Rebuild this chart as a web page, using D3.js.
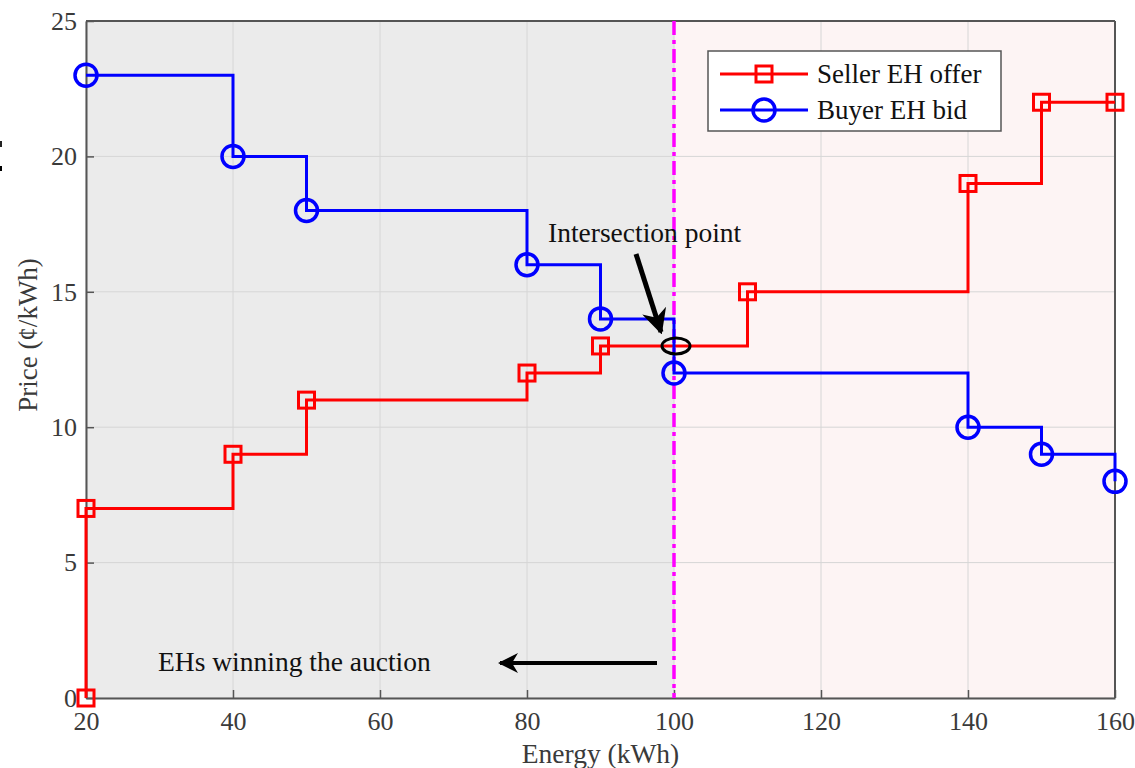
<!DOCTYPE html>
<html><head><meta charset="utf-8">
<script src="https://cdn.jsdelivr.net/npm/d3@7"></script>
<style>body{margin:0;background:#fff}svg{display:block}text{font-family:"Liberation Serif","DejaVu Serif",serif}</style>
</head><body><svg id="c" width="1135" height="768"></svg>
<script>
const sellerEnergy = [20, 20, 40, 50, 80, 90, 110, 140, 150, 160];
const sellerPrice  = [0, 7, 9, 11, 12, 13, 15, 19, 22, 22];
const buyerEnergy  = [20, 40, 50, 80, 90, 100, 140, 150, 160];
const buyerPrice   = [23, 20, 18, 16, 14, 12, 10, 9, 8];
const xTicks = [20, 40, 60, 80, 100, 120, 140, 160];
const yTicks = [0, 5, 10, 15, 20, 25];
const clearingEnergy = 100;
const intersection = {e: 100, p: 13};
const seriesNames = ["Seller EH offer", "Buyer EH bid"];

const svg = d3.select("#c");
const L = 86, R = 1115, T = 21, B = 698;
const x = d3.scaleLinear().domain([20, 160]).range([L, R]);
const y = d3.scaleLinear().domain([0, 25]).range([B, T]);

svg.append("rect").attr("x", x(20)).attr("y", T).attr("width", x(clearingEnergy) - x(20)).attr("height", B - T).attr("fill", "#ebebeb");
svg.append("rect").attr("x", x(clearingEnergy)).attr("y", T).attr("width", x(160) - x(clearingEnergy)).attr("height", B - T).attr("fill", "#fdf4f4");

const g = svg.append("g");
xTicks.forEach(t => g.append("line").attr("x1", x(t)).attr("x2", x(t)).attr("y1", T).attr("y2", B).attr("stroke", "#d6d6d6").attr("stroke-width", 1));
yTicks.forEach(t => g.append("line").attr("x1", L).attr("x2", R).attr("y1", y(t)).attr("y2", y(t)).attr("stroke", "#d6d6d6").attr("stroke-width", 1));

const xAxis = svg.append("g").attr("transform", `translate(0,${B})`).call(d3.axisBottom(x).tickValues(xTicks).tickSizeInner(-8).tickSizeOuter(0).tickPadding(14));
const yAxis = svg.append("g").attr("transform", `translate(${L},0)`).call(d3.axisLeft(y).tickValues(yTicks).tickSizeInner(-8).tickSizeOuter(0).tickPadding(9));
[xAxis, yAxis].forEach(a => {
  a.select(".domain").attr("stroke", "#555").attr("stroke-width", 2);
  a.selectAll(".tick line").attr("stroke", "#555").attr("stroke-width", 1.5);
  a.selectAll(".tick text").attr("font-size", 26).attr("fill", "#3a3a3a").attr("font-family", "Liberation Serif");
});
svg.append("line").attr("x1", L).attr("x2", R).attr("y1", T).attr("y2", T).attr("stroke", "#555").attr("stroke-width", 2);
svg.append("line").attr("x1", R).attr("x2", R).attr("y1", T).attr("y2", B).attr("stroke", "#555").attr("stroke-width", 2);

svg.append("line").attr("x1", x(clearingEnergy)).attr("x2", x(clearingEnergy)).attr("y1", T).attr("y2", B)
  .attr("stroke", "#ff00ff").attr("stroke-width", 3.5).attr("stroke-dasharray", "14,5,4,5");

const line = d3.line().x(d => x(d[0])).y(d => y(d[1])).curve(d3.curveStepAfter);
const sData = sellerEnergy.map((e, i) => [e, sellerPrice[i]]);
const bData = buyerEnergy.map((e, i) => [e, buyerPrice[i]]);

svg.append("path").datum(sData).attr("d", line).attr("fill", "none").attr("stroke", "#ff0000").attr("stroke-width", 3);
svg.append("path").datum(bData).attr("d", line).attr("fill", "none").attr("stroke", "#0000ff").attr("stroke-width", 3);

svg.selectAll(".sq").data(sData).enter().append("rect")
  .attr("x", d => x(d[0]) - 8).attr("y", d => y(d[1]) - 8).attr("width", 16).attr("height", 16)
  .attr("fill", "none").attr("stroke", "#ff0000").attr("stroke-width", 3);
svg.selectAll(".ci").data(bData).enter().append("circle")
  .attr("cx", d => x(d[0])).attr("cy", d => y(d[1])).attr("r", 11)
  .attr("fill", "none").attr("stroke", "#0000ff").attr("stroke-width", 3.5);

svg.append("ellipse").attr("cx", x(intersection.e) + 2).attr("cy", y(intersection.p)).attr("rx", 14).attr("ry", 8)
  .attr("fill", "none").attr("stroke", "#000").attr("stroke-width", 3);

const defs = svg.append("defs");
defs.append("marker").attr("id", "ah").attr("viewBox", "0 0 10 10").attr("refX", 9).attr("refY", 5)
  .attr("markerWidth", 5).attr("markerHeight", 5).attr("orient", "auto").attr("markerUnits", "strokeWidth")
  .append("path").attr("d", "M0,0 L10,5 L0,10 L3,5 Z").attr("fill", "#000");

svg.append("line").attr("x1", 636).attr("y1", 254).attr("x2", 661).attr("y2", 332)
  .attr("stroke", "#000").attr("stroke-width", 5).attr("marker-end", "url(#ah)");
svg.append("text").attr("x", 548).attr("y", 242).attr("font-size", 27.5).attr("fill", "#111").text("Intersection point");

svg.append("line").attr("x1", 657).attr("y1", 663).attr("x2", 500).attr("y2", 663)
  .attr("stroke", "#000").attr("stroke-width", 4).attr("marker-end", "url(#ah)");
svg.append("text").attr("x", 158).attr("y", 671).attr("font-size", 27.5).attr("fill", "#111").text("EHs winning the auction");

svg.append("text").attr("x", (L + R) / 2).attr("y", 763).attr("text-anchor", "middle").attr("font-size", 27.5).attr("fill", "#3a3a3a").text("Energy (kWh)");
svg.append("text").attr("transform", `translate(37,335) rotate(-90)`).attr("text-anchor", "middle").attr("font-size", 27).attr("fill", "#3a3a3a").text("Price (¢/kWh)");

// cropped stray glyph at far left edge
svg.append("rect").attr("x", 0).attr("y", 141).attr("width", 2).attr("height", 6).attr("fill", "#222");
svg.append("rect").attr("x", 0).attr("y", 166).attr("width", 2).attr("height", 5).attr("fill", "#000");

const lg = svg.append("g");
lg.append("rect").attr("x", 708).attr("y", 51).attr("width", 293).attr("height", 80).attr("fill", "#fff").attr("stroke", "#555").attr("stroke-width", 1.5);
const items = [{c: "#ff0000", t: seriesNames[0], m: "sq", yy: 74}, {c: "#0000ff", t: seriesNames[1], m: "ci", yy: 110}];
items.forEach(it => {
  lg.append("line").attr("x1", 720).attr("x2", 808).attr("y1", it.yy).attr("y2", it.yy).attr("stroke", it.c).attr("stroke-width", 3);
  if (it.m === "sq") lg.append("rect").attr("x", 756).attr("y", it.yy - 8).attr("width", 16).attr("height", 16).attr("fill", "none").attr("stroke", it.c).attr("stroke-width", 3);
  else lg.append("circle").attr("cx", 764).attr("cy", it.yy).attr("r", 11).attr("fill", "none").attr("stroke", it.c).attr("stroke-width", 3.5);
  lg.append("text").attr("x", 817).attr("y", it.yy + 9).attr("font-size", 27).attr("fill", "#111").text(it.t);
});
</script></body></html>
